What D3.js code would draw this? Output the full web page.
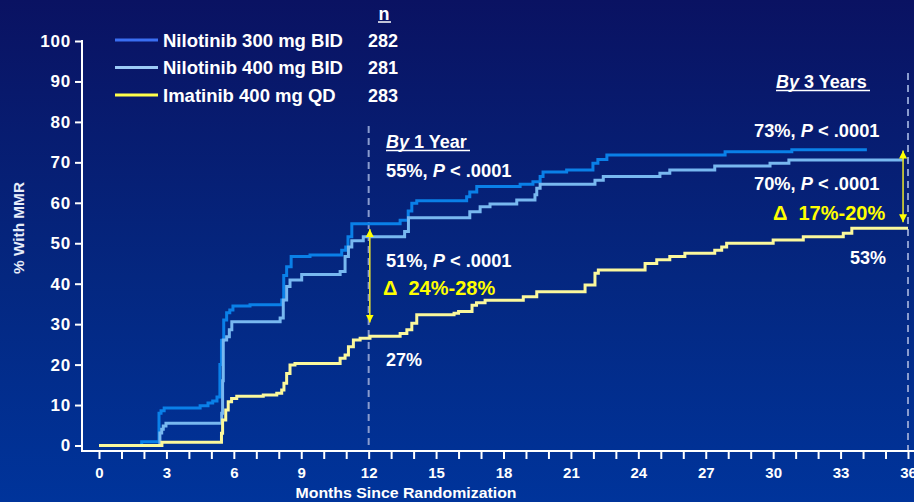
<!DOCTYPE html>
<html><head><meta charset="utf-8">
<script src="https://cdn.jsdelivr.net/npm/d3@7"></script>
<style>html,body{margin:0;padding:0;overflow:hidden;background:#0a1464}
text{font-family:"Liberation Sans",Arial,sans-serif;font-weight:bold;fill:#fff}</style>
</head><body>
<svg id="c" width="914" height="502"></svg>
<script>
// ---- data ----
const seriesNames = ["Nilotinib 300 mg BID", "Nilotinib 400 mg BID", "Imatinib 400 mg QD"];
const seriesN = [282, 281, 283];
const xTicks = d3.range(0, 37);            // monthly ticks
const xTickLabels = [0,3,6,9,12,15,18,21,24,27,30,33,36];
const yTicks = [0,10,20,30,40,50,60,70,80,90,100];

// step points: [month, % with MMR]
const nil300 = [[0,0],[1.9,0.9],[2.67,8],[2.76,8.6],[2.9,9.3],[4.5,9.8],[4.85,10.5],[5.06,11],[5.25,12],[5.38,20],[5.45,26],[5.55,31],[5.68,32.8],[5.82,33.5],[5.96,34.5],[6.72,34.8],[8.13,36],[8.22,42],[8.35,44.2],[8.55,46.7],[9.39,47.1],[10.8,48.3],[10.98,49.1],[11.08,51.6],[11.25,54.8],[13.4,55.7],[13.76,58],[13.92,59.9],[14.14,60.5],[16.36,61.5],[16.5,62.7],[16.81,64],[18.74,64.6],[19.31,65.2],[19.63,66.5],[19.76,67.6],[20.81,68.1],[21.98,69.8],[22.2,70.7],[22.6,71.8],[27.86,72.6],[30.83,73.1],[34.17,73.1]];
const nil400 = [[0,0],[2.71,3.1],[2.79,4],[2.86,4.8],[2.98,5.5],[5.46,8],[5.5,16],[5.53,26.1],[5.68,26.9],[5.8,28.6],[5.91,30.6],[8.06,31.5],[8.2,36],[8.35,39.3],[8.5,40.9],[9.02,42.3],[10.73,43],[10.95,46.7],[11.1,49.1],[11.25,50.6],[11.76,51.6],[13.6,52.9],[13.77,56.3],[16.5,57.8],[16.96,59],[17.4,59.7],[18.59,60.7],[19.4,62],[19.48,63.6],[19.63,64.6],[22.07,65.6],[22.44,66.5],[24.96,67.3],[25.4,68.1],[27.4,69.1],[29.86,69.8],[30.7,70.6],[35.8,70.6]];
const ima400 = [[0,0],[2.8,0.8],[5.45,3],[5.5,6.3],[5.64,8.8],[5.75,10.8],[5.9,11.6],[6.13,12.2],[7.31,12.5],[7.91,12.9],[8.13,13.7],[8.23,15.4],[8.35,17.8],[8.5,19.9],[8.72,20.3],[10.73,21.6],[10.95,22.4],[11.1,24.4],[11.32,26.1],[11.62,26.5],[12.06,27],[13.4,27.7],[13.7,28.6],[13.92,30.2],[14.14,32.3],[15.8,32.7],[16.0,33.1],[16.6,34.7],[16.8,35.3],[17.18,35.9],[18.88,36.8],[19.48,38],[21.63,39.7],[22.07,42.6],[22.22,43.4],[24.3,45],[24.82,45.9],[25.4,46.7],[26.07,47.5],[27.4,48.3],[27.71,49.1],[27.93,50],[30.0,50.8],[31.34,51.6],[33.12,52.5],[33.5,53.7],[36.0,53.7]];
const allSeries = [nil300, nil400, ima400];
const lineColors = ["#0a80e8", "#78b8f0", "#fbf89c"];
const swatchColors = ["#3a6ef2", "#9ccaf6", "#ffff4a"];

// gap arrows: [month, top %, bottom %]
const gapArrows = [[12.05, 53.5, 30.4], [35.78, 72.9, 55.2]];
// ---- drawing ----
const svg = d3.select("#c");
const defs = svg.append("defs");
const grad = defs.append("linearGradient").attr("id","bg").attr("x1",0).attr("y1",0).attr("x2",0).attr("y2",1);
grad.append("stop").attr("offset","0%").attr("stop-color","#0a1262");
grad.append("stop").attr("offset","55%").attr("stop-color","#042780");
grad.append("stop").attr("offset","100%").attr("stop-color","#00349b");
svg.append("rect").attr("width",914).attr("height",502).attr("fill","url(#bg)");

defs.append("marker").attr("id","ah").attr("viewBox","0 0 10 10").attr("refX",10).attr("refY",5)
  .attr("markerWidth",8).attr("markerHeight",9).attr("markerUnits","userSpaceOnUse")
  .attr("orient","auto-start-reverse")
  .append("path").attr("d","M0,0 L10,5 L0,10 Z").attr("fill","#ffff00");

const x = d3.scaleLinear().domain([0,36]).range([99,908]);
const y = d3.scaleLinear().domain([0,100]).range([445.5,41]);
const axisX0 = 82, axisY0 = 451;

// dashed reference lines
svg.append("line").attr("x1",x(12)).attr("x2",x(12)).attr("y1",126).attr("y2",axisY0)
  .attr("stroke","#8a9ccf").attr("stroke-width",2).attr("stroke-dasharray","7,5");
svg.append("line").attr("x1",x(36)).attr("x2",x(36)).attr("y1",73).attr("y2",axisY0)
  .attr("stroke","#8a9ccf").attr("stroke-width",2).attr("stroke-dasharray","7,5");

// axes
const yAxis = svg.append("g").attr("transform",`translate(${axisX0},0)`)
  .call(d3.axisLeft(y).tickValues(yTicks).tickSize(7).tickPadding(4).tickSizeOuter(0));
yAxis.select(".domain").remove();
yAxis.selectAll(".tick line").attr("stroke","#fff").attr("stroke-width",2);
yAxis.selectAll(".tick text").attr("fill","#fff").style("font-size","17px").style("letter-spacing","0.8px")
  .attr("font-family",null);
svg.append("line").attr("x1",axisX0).attr("x2",axisX0).attr("y1",y(100)-1).attr("y2",axisY0+1)
  .attr("stroke","#fff").attr("stroke-width",2);

const xAxis = svg.append("g").attr("transform",`translate(0,${axisY0})`)
  .call(d3.axisBottom(x).tickValues(xTicks).tickSize(8).tickPadding(8).tickSizeOuter(0)
    .tickFormat(d => xTickLabels.includes(d) ? d : ""));
xAxis.select(".domain").remove();
xAxis.selectAll(".tick line").attr("stroke","#fff").attr("stroke-width",2);
xAxis.selectAll(".tick text").attr("fill","#fff").style("font-size","15px").attr("font-family",null);
svg.append("line").attr("x1",axisX0-1).attr("x2",914).attr("y1",axisY0).attr("y2",axisY0)
  .attr("stroke","#fff").attr("stroke-width",2);

// axis titles
svg.append("text").attr("transform","translate(24,228) rotate(-90)").attr("text-anchor","middle")
  .style("font-size","15px").attr("textLength",92).attr("lengthAdjust","spacingAndGlyphs")
  .style("fill","#e6ecf8").text("% With MMR");
svg.append("text").attr("x",406).attr("y",498).attr("text-anchor","middle")
  .style("font-size","15.5px").attr("textLength",221).attr("lengthAdjust","spacingAndGlyphs")
  .text("Months Since Randomization");

// curves
const line = d3.line().x(d => x(d[0])).y(d => y(d[1])).curve(d3.curveStepAfter);
allSeries.forEach((s,i) => {
  svg.append("path").datum(s).attr("d",line).attr("fill","none")
    .attr("stroke",lineColors[i]).attr("stroke-width",3).attr("stroke-linejoin","miter");
});

// gap arrows
gapArrows.forEach(a => {
  svg.append("line").attr("x1",x(a[0])).attr("x2",x(a[0])).attr("y1",y(a[2])).attr("y2",y(a[1]))
    .attr("stroke","#e0dc30").attr("stroke-width",1.6)
    .attr("marker-start","url(#ah)").attr("marker-end","url(#ah)");
});

// legend
const lg = svg.append("g");
seriesNames.forEach((n,i) => {
  const by = 46.5 + i*27.5;
  lg.append("line").attr("x1",115).attr("x2",158).attr("y1",by-6.5).attr("y2",by-6.5)
    .attr("stroke",swatchColors[i]).attr("stroke-width",3);
  lg.append("text").attr("x",163).attr("y",by).style("font-size","18.5px").text(n);
  lg.append("text").attr("x",368).attr("y",by).style("font-size","18px").text(seriesN[i]);
});
lg.append("text").attr("x",384).attr("y",20).attr("text-anchor","middle").style("font-size","18px").text("n");
lg.append("line").attr("x1",378).attr("x2",391).attr("y1",22).attr("y2",22).attr("stroke","#fff").attr("stroke-width",1.5);

// annotations
function head(xp, yp, num, ulEnd){
  const t = svg.append("text").attr("x",xp).attr("y",yp).style("font-size","18px");
  t.append("tspan").style("font-style","italic").text("By");
  t.append("tspan").text("\u00a0" + num);
  svg.append("line").attr("x1",xp).attr("x2",ulEnd).attr("y1",yp+3).attr("y2",yp+3)
    .attr("stroke","#fff").attr("stroke-width",1.5);
}
function pval(xp, yp, pct){
  const t = svg.append("text").attr("x",xp).attr("y",yp).style("font-size","18.3px");
  t.append("tspan").text(pct + ",\u00a0");
  t.append("tspan").style("font-style","italic").text("P");
  t.append("tspan").text("\u00a0<\u00a0.0001");
}
head(386, 147.5, "1 Year", 470);
pval(386, 176.5, "55%");
pval(386, 267, "51%");
svg.append("text").attr("x",383).attr("y",295).style("font-size","20px")
  .style("fill","#ffff00").text("\u0394\u00a0\u00a024%-28%");
svg.append("text").attr("x",386).attr("y",366).style("font-size","18px").text("27%");

head(776, 87.5, "3 Years", 870);
pval(754, 136.5, "73%");
pval(754, 189.5, "70%");
svg.append("text").attr("x",773).attr("y",219.5).style("font-size","20px").style("fill","#ffff00").text("\u0394\u00a0\u00a017%-20%");
svg.append("text").attr("x",850).attr("y",264).style("font-size","18px").text("53%");
</script>
</body></html>
